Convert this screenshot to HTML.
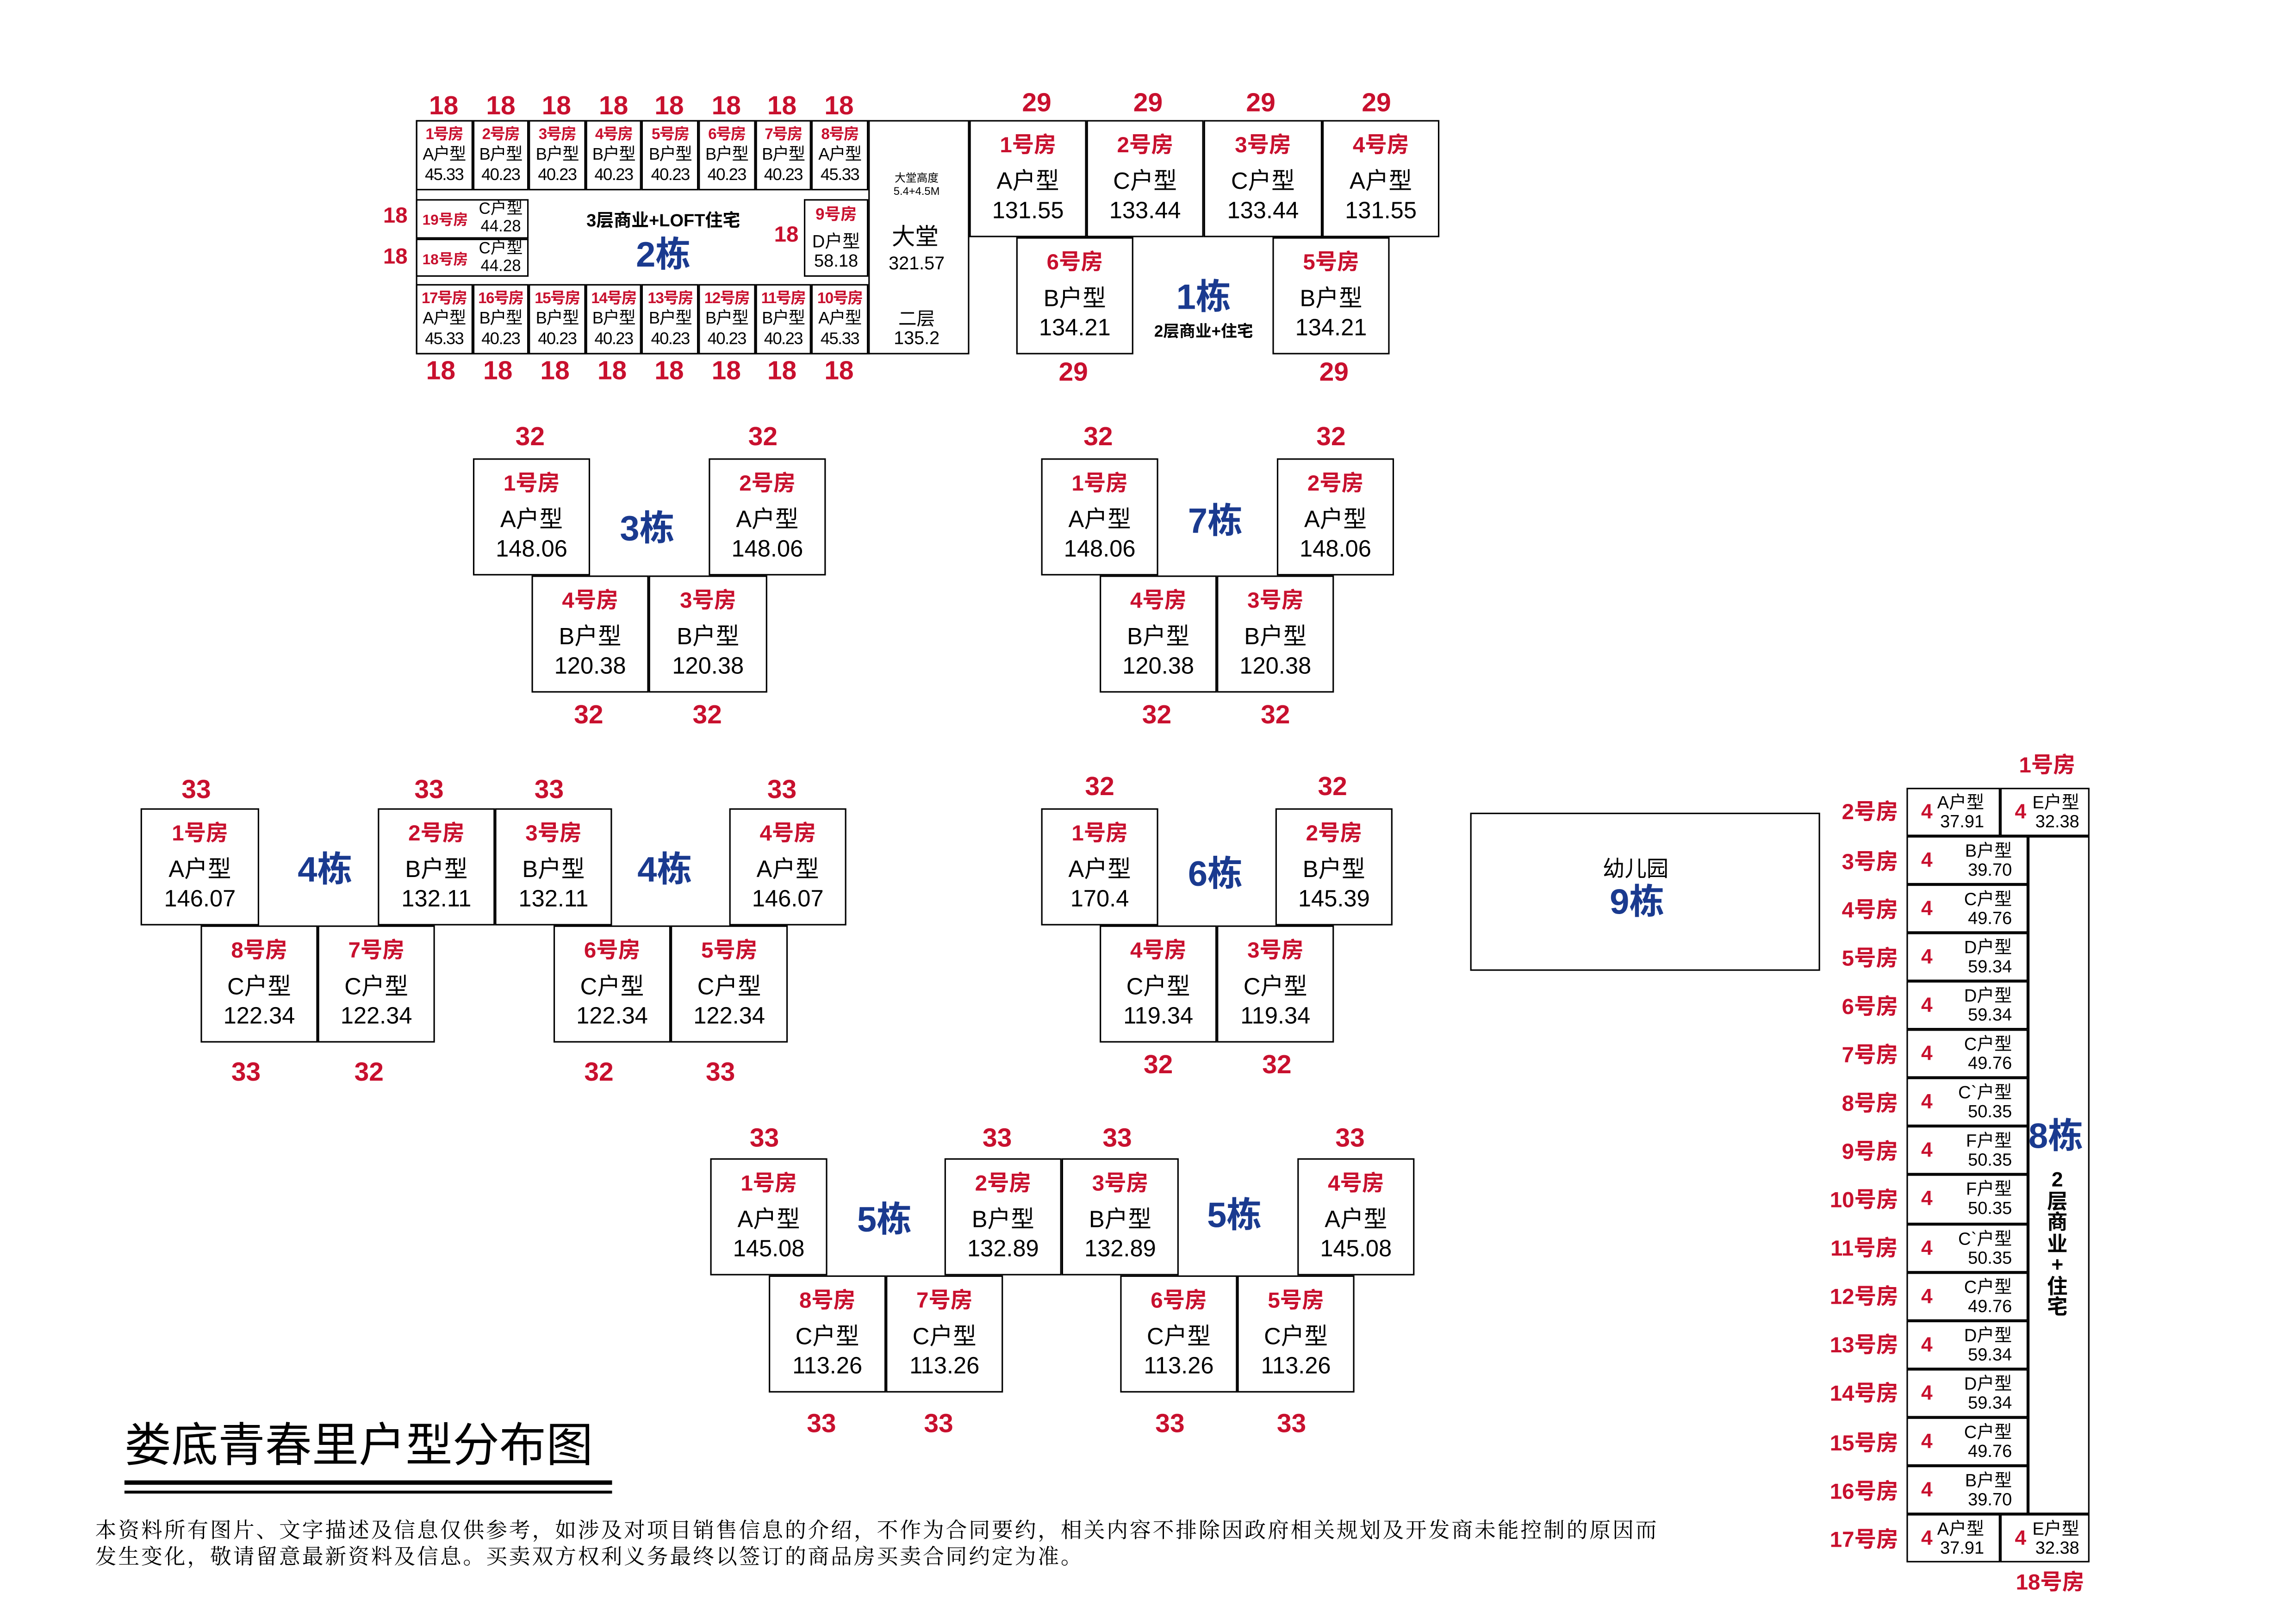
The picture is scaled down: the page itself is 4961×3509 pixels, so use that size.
<!DOCTYPE html>
<html><head><meta charset="utf-8"><style>
html,body{margin:0;padding:0;background:#fff;}
body{width:4961px;height:3508px;overflow:hidden;position:relative;}
#w{position:absolute;left:0;top:0;width:1568px;height:1109px;transform:scale(3.1639);transform-origin:0 0;font-family:"Liberation Sans","Noto Sans CJK SC",sans-serif;color:#000;}
.a{position:absolute;}
.u{position:absolute;width:80px;height:80px;border:1.5px solid #000;box-sizing:border-box;text-align:center;padding-top:6px;background:#fff;}
.u b{display:block;color:#c8102e;font-size:15px;line-height:22px;font-weight:bold;margin-bottom:4px;}
.u i{display:block;font-style:normal;font-size:16px;line-height:20px;}
.s{position:absolute;width:38.6px;height:48px;border:1.2px solid #000;box-sizing:border-box;text-align:center;padding-top:2px;}
.s b{display:block;color:#c8102e;font-size:10.5px;line-height:14px;font-weight:bold;letter-spacing:-0.5px;}
.s i{display:block;font-style:normal;font-size:11.5px;line-height:14px;letter-spacing:-0.5px;}
.r{position:absolute;color:#c8102e;font-weight:bold;font-size:18px;line-height:18px;transform:translate(-50%,-50%);white-space:nowrap;}
.bl{position:absolute;color:#1a3a8f;font-weight:bold;font-size:24px;line-height:24px;transform:translate(-50%,-50%);white-space:nowrap;}
.c{position:absolute;transform:translate(-50%,-50%);white-space:nowrap;text-align:center;}
.e{position:absolute;left:1302px;width:83px;height:33.07px;border:1.2px solid #000;box-sizing:border-box;text-align:right;padding-right:10px;font-size:12px;line-height:13px;padding-top:3px;}
.e span{position:absolute;left:9px;top:9px;color:#c8102e;font-weight:bold;font-size:14px;}
.lab{position:absolute;left:1277px;color:#c8102e;font-weight:bold;font-size:15px;transform:translate(-50%,-50%);white-space:nowrap;}
</style></head><body><div id="w">

<!-- Building 2 -->
<div class="a" style="left:284px;top:82px;width:378px;height:160px;border:1.5px solid #000;box-sizing:border-box;"></div>
<div class="a" style="left:592.8px;top:82px;width:1.5px;height:160px;background:#000;"></div>
<div class="s" style="left:284px;top:82px"><b>1号房</b><i>A户型</i><i>45.33</i></div>
<div class="s" style="left:322.6px;top:82px"><b>2号房</b><i>B户型</i><i>40.23</i></div>
<div class="s" style="left:361.2px;top:82px"><b>3号房</b><i>B户型</i><i>40.23</i></div>
<div class="s" style="left:399.8px;top:82px"><b>4号房</b><i>B户型</i><i>40.23</i></div>
<div class="s" style="left:438.4px;top:82px"><b>5号房</b><i>B户型</i><i>40.23</i></div>
<div class="s" style="left:477px;top:82px"><b>6号房</b><i>B户型</i><i>40.23</i></div>
<div class="s" style="left:515.6px;top:82px"><b>7号房</b><i>B户型</i><i>40.23</i></div>
<div class="s" style="left:554.2px;top:82px"><b>8号房</b><i>A户型</i><i>45.33</i></div>
<div class="s" style="left:284px;top:194px"><b>17号房</b><i>A户型</i><i>45.33</i></div>
<div class="s" style="left:322.6px;top:194px"><b>16号房</b><i>B户型</i><i>40.23</i></div>
<div class="s" style="left:361.2px;top:194px"><b>15号房</b><i>B户型</i><i>40.23</i></div>
<div class="s" style="left:399.8px;top:194px"><b>14号房</b><i>B户型</i><i>40.23</i></div>
<div class="s" style="left:438.4px;top:194px"><b>13号房</b><i>B户型</i><i>40.23</i></div>
<div class="s" style="left:477px;top:194px"><b>12号房</b><i>B户型</i><i>40.23</i></div>
<div class="s" style="left:515.6px;top:194px"><b>11号房</b><i>B户型</i><i>40.23</i></div>
<div class="s" style="left:554.2px;top:194px"><b>10号房</b><i>A户型</i><i>45.33</i></div>
<div class="a" style="left:284px;top:136px;width:77px;height:26.5px;border:1.2px solid #000;box-sizing:border-box;"></div>
<div class="a" style="left:284px;top:162.5px;width:77px;height:26.5px;border:1.2px solid #000;box-sizing:border-box;"></div>
<div class="c" style="left:304px;top:149px;color:#c8102e;font-weight:bold;font-size:10px;">19号房</div>
<div class="c" style="left:342px;top:149px;font-size:11px;line-height:12px;">C户型<br>44.28</div>
<div class="c" style="left:304px;top:176px;color:#c8102e;font-weight:bold;font-size:10px;">18号房</div>
<div class="c" style="left:342px;top:176px;font-size:11px;line-height:12px;">C户型<br>44.28</div>
<div class="a" style="left:549px;top:136px;width:44px;height:53px;border:1.2px solid #000;box-sizing:border-box;"></div>
<div class="c" style="left:571px;top:146px;color:#c8102e;font-weight:bold;font-size:11px;">9号房</div>
<div class="c" style="left:571px;top:172px;font-size:12px;line-height:13px;">D户型<br>58.18</div>
<div class="c" style="left:453px;top:150px;font-weight:bold;font-size:12px;">3层商业+LOFT住宅</div>
<div class="bl" style="left:453px;top:175px;">2栋</div>
<div class="c" style="left:626px;top:126px;font-size:7.5px;line-height:9px;">大堂高度<br>5.4+4.5M</div>
<div class="c" style="left:625px;top:160px;font-size:16px;">大堂</div>
<div class="c" style="left:626px;top:180px;font-size:12.5px;">321.57</div>
<div class="c" style="left:626px;top:225px;font-size:12.5px;line-height:13px;">二层<br>135.2</div>
<div class="r" style="left:303px;top:72px">18</div><div class="r" style="left:342px;top:72px">18</div><div class="r" style="left:380px;top:72px">18</div><div class="r" style="left:419px;top:72px">18</div><div class="r" style="left:457px;top:72px">18</div><div class="r" style="left:496px;top:72px">18</div><div class="r" style="left:534px;top:72px">18</div><div class="r" style="left:573px;top:72px">18</div>
<div class="r" style="left:301px;top:253px">18</div><div class="r" style="left:340px;top:253px">18</div><div class="r" style="left:379px;top:253px">18</div><div class="r" style="left:418px;top:253px">18</div><div class="r" style="left:457px;top:253px">18</div><div class="r" style="left:496px;top:253px">18</div><div class="r" style="left:534px;top:253px">18</div><div class="r" style="left:573px;top:253px">18</div>
<div class="r" style="left:270px;top:148px;font-size:15px">18</div><div class="r" style="left:270px;top:176px;font-size:15px">18</div><div class="r" style="left:537px;top:161px;font-size:15px">18</div>

<!-- Building 1 -->
<div class="u" style="left:662px;top:82px"><b>1号房</b><i>A户型</i><i>131.55</i></div>
<div class="u" style="left:742px;top:82px"><b>2号房</b><i>C户型</i><i>133.44</i></div>
<div class="u" style="left:822px;top:82px;width:81px"><b>3号房</b><i>C户型</i><i>133.44</i></div>
<div class="u" style="left:903px;top:82px"><b>4号房</b><i>A户型</i><i>131.55</i></div>
<div class="u" style="left:694px;top:162px"><b>6号房</b><i>B户型</i><i>134.21</i></div>
<div class="u" style="left:869px;top:162px"><b>5号房</b><i>B户型</i><i>134.21</i></div>
<div class="bl" style="left:822px;top:204px;">1栋</div>
<div class="c" style="left:822px;top:226px;font-weight:bold;font-size:11px;">2层商业+住宅</div>
<div class="r" style="left:708px;top:70px">29</div><div class="r" style="left:784px;top:70px">29</div><div class="r" style="left:861px;top:70px">29</div><div class="r" style="left:940px;top:70px">29</div>
<div class="r" style="left:733px;top:254px">29</div><div class="r" style="left:911px;top:254px">29</div>

<!-- Building 3 -->
<div class="u" style="left:323px;top:313px"><b>1号房</b><i>A户型</i><i>148.06</i></div>
<div class="u" style="left:484px;top:313px"><b>2号房</b><i>A户型</i><i>148.06</i></div>
<div class="u" style="left:363px;top:393px"><b>4号房</b><i>B户型</i><i>120.38</i></div>
<div class="u" style="left:443px;top:393px;width:81px"><b>3号房</b><i>B户型</i><i>120.38</i></div>
<div class="bl" style="left:442px;top:362px;">3栋</div>
<div class="r" style="left:362px;top:298px">32</div><div class="r" style="left:521px;top:298px">32</div>
<div class="r" style="left:402px;top:488px">32</div><div class="r" style="left:483px;top:488px">32</div>

<!-- Building 7 -->
<div class="u" style="left:711px;top:313px"><b>1号房</b><i>A户型</i><i>148.06</i></div>
<div class="u" style="left:872px;top:313px"><b>2号房</b><i>A户型</i><i>148.06</i></div>
<div class="u" style="left:751px;top:393px"><b>4号房</b><i>B户型</i><i>120.38</i></div>
<div class="u" style="left:831px;top:393px"><b>3号房</b><i>B户型</i><i>120.38</i></div>
<div class="bl" style="left:830px;top:357px;">7栋</div>
<div class="r" style="left:750px;top:298px">32</div><div class="r" style="left:909px;top:298px">32</div>
<div class="r" style="left:790px;top:488px">32</div><div class="r" style="left:871px;top:488px">32</div>

<!-- Building 4 -->
<div class="u" style="left:96px;top:552px;width:81px"><b>1号房</b><i>A户型</i><i>146.07</i></div>
<div class="u" style="left:258px;top:552px"><b>2号房</b><i>B户型</i><i>132.11</i></div>
<div class="u" style="left:338px;top:552px"><b>3号房</b><i>B户型</i><i>132.11</i></div>
<div class="u" style="left:498px;top:552px"><b>4号房</b><i>A户型</i><i>146.07</i></div>
<div class="u" style="left:137px;top:632px"><b>8号房</b><i>C户型</i><i>122.34</i></div>
<div class="u" style="left:217px;top:632px"><b>7号房</b><i>C户型</i><i>122.34</i></div>
<div class="u" style="left:378px;top:632px"><b>6号房</b><i>C户型</i><i>122.34</i></div>
<div class="u" style="left:458px;top:632px"><b>5号房</b><i>C户型</i><i>122.34</i></div>
<div class="bl" style="left:222px;top:595px;">4栋</div><div class="bl" style="left:454px;top:595px;">4栋</div>
<div class="r" style="left:134px;top:539px">33</div><div class="r" style="left:293px;top:539px">33</div><div class="r" style="left:375px;top:539px">33</div><div class="r" style="left:534px;top:539px">33</div>
<div class="r" style="left:168px;top:732px">33</div><div class="r" style="left:252px;top:732px">32</div><div class="r" style="left:409px;top:732px">32</div><div class="r" style="left:492px;top:732px">33</div>

<!-- Building 6 -->
<div class="u" style="left:711px;top:552px"><b>1号房</b><i>A户型</i><i>170.4</i></div>
<div class="u" style="left:871px;top:552px"><b>2号房</b><i>B户型</i><i>145.39</i></div>
<div class="u" style="left:751px;top:632px"><b>4号房</b><i>C户型</i><i>119.34</i></div>
<div class="u" style="left:831px;top:632px"><b>3号房</b><i>C户型</i><i>119.34</i></div>
<div class="bl" style="left:830px;top:598px;">6栋</div>
<div class="r" style="left:751px;top:537px">32</div><div class="r" style="left:910px;top:537px">32</div>
<div class="r" style="left:791px;top:727px">32</div><div class="r" style="left:872px;top:727px">32</div>

<!-- Building 5 -->
<div class="u" style="left:485px;top:791px"><b>1号房</b><i>A户型</i><i>145.08</i></div>
<div class="u" style="left:645px;top:791px"><b>2号房</b><i>B户型</i><i>132.89</i></div>
<div class="u" style="left:725px;top:791px"><b>3号房</b><i>B户型</i><i>132.89</i></div>
<div class="u" style="left:886px;top:791px"><b>4号房</b><i>A户型</i><i>145.08</i></div>
<div class="u" style="left:525px;top:871px"><b>8号房</b><i>C户型</i><i>113.26</i></div>
<div class="u" style="left:605px;top:871px"><b>7号房</b><i>C户型</i><i>113.26</i></div>
<div class="u" style="left:765px;top:871px"><b>6号房</b><i>C户型</i><i>113.26</i></div>
<div class="u" style="left:845px;top:871px"><b>5号房</b><i>C户型</i><i>113.26</i></div>
<div class="bl" style="left:604px;top:834px;">5栋</div><div class="bl" style="left:843px;top:831px;">5栋</div>
<div class="r" style="left:522px;top:777px">33</div><div class="r" style="left:681px;top:777px">33</div><div class="r" style="left:763px;top:777px">33</div><div class="r" style="left:922px;top:777px">33</div>
<div class="r" style="left:561px;top:972px">33</div><div class="r" style="left:641px;top:972px">33</div><div class="r" style="left:799px;top:972px">33</div><div class="r" style="left:882px;top:972px">33</div>

<!-- Building 9 -->
<div class="a" style="left:1004px;top:555px;width:239px;height:108px;border:1.5px solid #000;box-sizing:border-box;"></div>
<div class="c" style="left:1117px;top:593px;font-size:15px;">幼儿园</div>
<div class="bl" style="left:1118px;top:617px;">9栋</div>

<!-- Building 8 -->
<div class="a" style="left:1385px;top:571px;width:42px;height:463px;border:1.5px solid #000;box-sizing:border-box;"></div>
<div class="e" style="left:1302px;top:538px;width:64px"><span>4</span>A户型<br>37.91</div>
<div class="e" style="left:1366px;top:538px;width:61px;padding-right:6px"><span>4</span>E户型<br>32.38</div>
<div class="e" style="top:571px"><span>4</span>B户型<br>39.70</div>
<div class="e" style="top:604.07px"><span>4</span>C户型<br>49.76</div>
<div class="e" style="top:637.14px"><span>4</span>D户型<br>59.34</div>
<div class="e" style="top:670.21px"><span>4</span>D户型<br>59.34</div>
<div class="e" style="top:703.28px"><span>4</span>C户型<br>49.76</div>
<div class="e" style="top:736.35px"><span>4</span>C`户型<br>50.35</div>
<div class="e" style="top:769.42px"><span>4</span>F户型<br>50.35</div>
<div class="e" style="top:802.49px"><span>4</span>F户型<br>50.35</div>
<div class="e" style="top:835.56px"><span>4</span>C`户型<br>50.35</div>
<div class="e" style="top:868.63px"><span>4</span>C户型<br>49.76</div>
<div class="e" style="top:901.7px"><span>4</span>D户型<br>59.34</div>
<div class="e" style="top:934.77px"><span>4</span>D户型<br>59.34</div>
<div class="e" style="top:967.84px"><span>4</span>C户型<br>49.76</div>
<div class="e" style="top:1000.91px"><span>4</span>B户型<br>39.70</div>
<div class="e" style="left:1302px;top:1034px;width:64px"><span>4</span>A户型<br>37.91</div>
<div class="e" style="left:1366px;top:1034px;width:61px;padding-right:6px"><span>4</span>E户型<br>32.38</div>
<div class="bl" style="left:1404px;top:777px;">8栋</div>
<div class="c" style="left:1405px;top:849px;font-weight:bold;font-size:14px;line-height:14.5px;">2<br>层<br>商<br>业<br>+<br>住<br>宅</div>
<div class="lab" style="left:1398px;top:522px;">1号房</div>
<div class="lab" style="top:554px">2号房</div>
<div class="lab" style="top:587.5px">3号房</div>
<div class="lab" style="top:620.6px">4号房</div>
<div class="lab" style="top:653.7px">5号房</div>
<div class="lab" style="top:686.7px">6号房</div>
<div class="lab" style="top:719.8px">7号房</div>
<div class="lab" style="top:752.9px">8号房</div>
<div class="lab" style="top:786px">9号房</div>
<div class="lab" style="left:1273px;top:819px">10号房</div>
<div class="lab" style="left:1273px;top:852px">11号房</div>
<div class="lab" style="left:1273px;top:885px">12号房</div>
<div class="lab" style="left:1273px;top:918px">13号房</div>
<div class="lab" style="left:1273px;top:951px">14号房</div>
<div class="lab" style="left:1273px;top:985px">15号房</div>
<div class="lab" style="left:1273px;top:1018px">16号房</div>
<div class="lab" style="left:1273px;top:1051px">17号房</div>
<div class="lab" style="left:1400px;top:1080px;">18号房</div>

<!-- Title -->
<div class="a" style="left:85px;top:967px;font-size:32px;line-height:40px;">娄底青春里户型分布图</div>
<div class="a" style="left:85px;top:1011px;width:333px;height:3px;background:#000;"></div>
<div class="a" style="left:85px;top:1018px;width:333px;height:1.5px;background:#000;"></div>
<div class="a" style="left:65px;top:1037px;font-family:'Liberation Serif','Noto Serif CJK SC',serif;font-size:14.5px;letter-spacing:1.2px;line-height:18px;white-space:nowrap;">本资料所有图片、文字描述及信息仅供参考，如涉及对项目销售信息的介绍，不作为合同要约，相关内容不排除因政府相关规划及开发商未能控制的原因而<br>发生变化，敬请留意最新资料及信息。买卖双方权利义务最终以签订的商品房买卖合同约定为准。</div>

</div></body></html>
